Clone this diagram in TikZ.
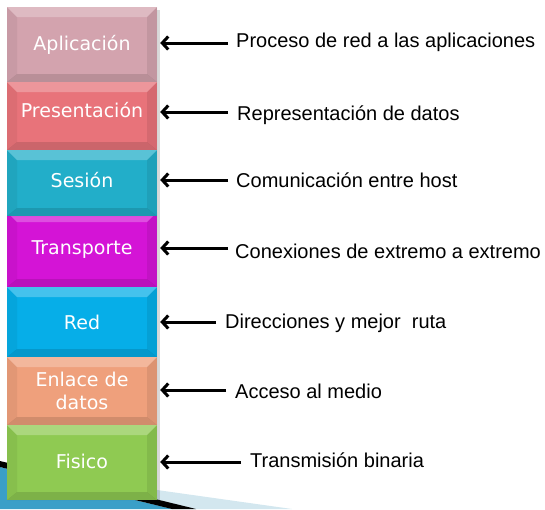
\documentclass[tikz,border=0pt]{standalone}
\usepackage{fontspec}
\setmainfont{Liberation Sans}
\newfontfamily\boxfont{DejaVu Sans}
\usetikzlibrary{arrows.meta}
\definecolor{cApl}{HTML}{D3A3AE}
\definecolor{cPre}{HTML}{E8737A}
\definecolor{cSes}{HTML}{22AEC9}
\definecolor{cTra}{HTML}{D414D6}
\definecolor{cRed}{HTML}{06AEE8}
\definecolor{cEnl}{HTML}{EFA07C}
\definecolor{cFis}{HTML}{8FCA52}
\definecolor{decoLight}{HTML}{D3E7EF}
\definecolor{decoBlue}{HTML}{3A9FC8}
\begin{document}
\begin{tikzpicture}[x=1pt,y=-1pt,
  layer/.style={rectangle, minimum width=150pt, inner sep=0pt, text=white,
    font=\boxfont\fontsize{19}{23}\selectfont, align=center,
    path picture={
      \fill[white, opacity=.25] (path picture bounding box.north west) -- (path picture bounding box.north east)
        -- ([xshift=-10pt,yshift=-10pt]path picture bounding box.north east) -- ([xshift=10pt,yshift=-10pt]path picture bounding box.north west) -- cycle;
      \fill[black, opacity=.12] (path picture bounding box.south west) -- (path picture bounding box.south east)
        -- ([xshift=-10pt,yshift=8pt]path picture bounding box.south east) -- ([xshift=10pt,yshift=8pt]path picture bounding box.south west) -- cycle;
      \fill[black, opacity=.05] (path picture bounding box.north west) -- ([xshift=10pt,yshift=-10pt]path picture bounding box.north west)
        -- ([xshift=10pt,yshift=8pt]path picture bounding box.south west) -- (path picture bounding box.south west) -- cycle;
      \fill[black, opacity=.08] (path picture bounding box.north east) -- ([xshift=-10pt,yshift=-10pt]path picture bounding box.north east)
        -- ([xshift=-10pt,yshift=8pt]path picture bounding box.south east) -- (path picture bounding box.south east) -- cycle;
    }},
  desc/.style={anchor=base west, inner sep=0pt, font=\fontsize{20}{23}\selectfont},
  arr/.style={-{Straight Barb[length=6pt,width=13pt]}, line width=3pt, black}
]
\useasboundingbox (0,0) rectangle (545,509);
% bottom-left decoration
\fill[decoLight] (150,489) -- (292,509) -- (150,509) -- cycle;
\fill[decoBlue] (0,467) -- (172,509) -- (0,509) -- cycle;
\fill[black] (0,461) -- (196,509) -- (172,509) -- (0,467) -- cycle;
% shadow
\fill[black, opacity=.15] (157,10) rectangle (160,502);
% layers
\node[layer, fill=cTra, minimum height=75pt] (b4) at (82,249.5) {\raisebox{3pt}{Transporte}};
\node[layer, fill=cApl, minimum height=75pt] (b1) at (82,44.5) {\raisebox{3pt}{Aplicación}};
\node[layer, fill=cPre, minimum height=68pt] (b2) at (82,116) {\raisebox{12pt}{Presentación}};
\node[layer, fill=cSes, minimum height=66pt] (b3) at (82,183) {\raisebox{6pt}{Sesión}};
\node[layer, fill=cRed, minimum height=70pt] (b5) at (82,322) {Red};
\node[layer, fill=cEnl, minimum height=68pt] (b6) at (82,391) {Enlace de\\datos};
\node[layer, fill=cFis, minimum height=75pt] (b7) at (82,462.5) {\raisebox{3pt}{Fisico}};
% descriptions
\node[desc] (t1) at (236,47) {Proceso de red a las aplicaciones};
\node[desc] (t2) at (237,120) {Representación de datos};
\node[desc] (t3) at (236,187) {Comunicación entre host};
\node[desc] (t4) at (235,258) {Conexiones de extremo a extremo};
\node[desc] (t5) at (225,328) {Direcciones y mejor\ \ ruta};
\node[desc] (t6) at (235,398) {Acceso al medio};
\node[desc] (t7) at (250,467) {Transmisión binaria};
% arrow tails
\coordinate (a1) at (228,43);
\coordinate (a2) at (228,112);
\coordinate (a3) at (228,180);
\coordinate (a4) at (228,248);
\coordinate (a5) at (216,322);
\coordinate (a6) at (226,390);
\coordinate (a7) at (241,462);
\foreach \i in {1,...,7}{
  \draw[arr] (a\i) -- ([xshift=3pt]a\i -| b\i.east);
}
\end{tikzpicture}
\end{document}
